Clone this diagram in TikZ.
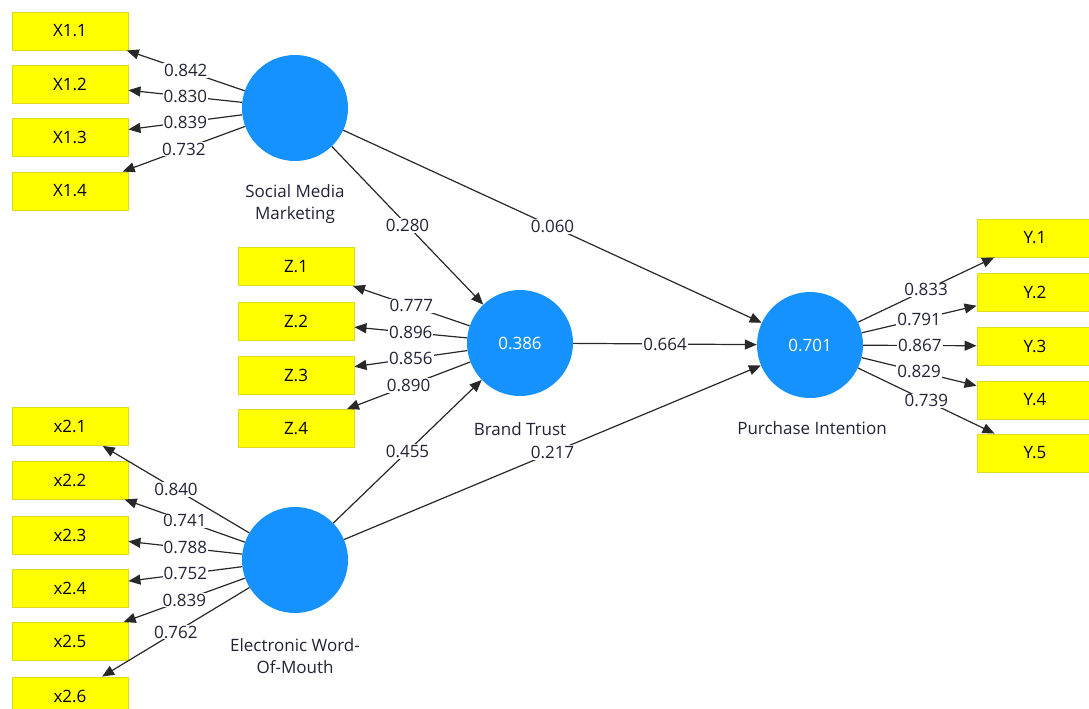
\documentclass[tikz,border=0pt]{standalone}
\usepackage{fontspec}
\setmainfont{Open Sans}
\usetikzlibrary{arrows.meta}
\definecolor{lvblue}{RGB}{22,146,255}
\definecolor{mvyellow}{RGB}{255,255,0}
\definecolor{mvborder}{RGB}{220,220,30}
\definecolor{txtdark}{RGB}{35,35,55}
\definecolor{linegray}{RGB}{40,40,40}
\tikzset{
  mv/.style={draw=mvborder, line width=0.9pt, fill=mvyellow, minimum width=116pt, minimum height=38pt, inner sep=0pt, font=\fontsize{17}{19}\selectfont, text=black},
  lv/.style={circle, fill=lvblue, minimum size=106pt, inner sep=0pt, font=\fontsize{17}{19}\selectfont, text=white},
  lvname/.style={align=center, font=\fontsize{17}{22}\selectfont, text=txtdark},
  arr/.style={draw=linegray, line width=1.2pt, -{Triangle[length=12pt,width=10pt]}},
  lab/.style={fill=white, inner sep=1pt, font=\fontsize{17}{19}\selectfont, text=txtdark}
}
\begin{document}
\begin{tikzpicture}[x=1pt,y=-1pt]
\useasboundingbox[fill=white] (0,0) rectangle (1089,709);
% latent variables
\node[lv] (smm) at (295,108) {};
\node[lv] (bt) at (520,343) {0.386};
\node[lv] (pi) at (810,345) {0.701};
\node[lv] (ew) at (295,560) {};
\node[lvname] (smmname) at (295,204) {Social Media\\Marketing};
\node[lvname] (btname) at (520,429) {Brand Trust};
\node[lvname] (piname) at (812,428) {Purchase Intention};
\node[lvname] (ewname) at (295,656) {Electronic Word-\\Of-Mouth};
% indicators
\node[mv] (x11) at (70,31) {X1.1};
\node[mv] (x12) at (70,84) {X1.2};
\node[mv] (x13) at (70,137) {X1.3};
\node[mv] (x14) at (70,191) {X1.4};
\node[mv] (z1) at (296,266.5) {Z.1};
\node[mv] (z2) at (296,321.5) {Z.2};
\node[mv] (z3) at (296,375) {Z.3};
\node[mv] (z4) at (296,428.5) {Z.4};
\node[mv] (x21) at (70,426.5) {x2.1};
\node[mv] (x22) at (70,480) {x2.2};
\node[mv] (x23) at (70,535) {x2.3};
\node[mv] (x24) at (70,588.5) {x2.4};
\node[mv] (x25) at (70,641.5) {x2.5};
\node[mv] (x26) at (70,696) {x2.6};
\node[mv] (y1) at (1035,238) {Y.1};
\node[mv] (y2) at (1035,292) {Y.2};
\node[mv] (y3) at (1035,346) {Y.3};
\node[mv] (y4) at (1035,400) {Y.4};
\node[mv] (y5) at (1035,453) {Y.5};
% outer loadings
\draw[arr] (smm) -- node[lab]{0.842} (x11);
\draw[arr] (smm) -- node[lab]{0.830} (x12);
\draw[arr] (smm) -- node[lab]{0.839} (x13);
\draw[arr] (smm) -- node[lab]{0.732} (x14);
\draw[arr] (bt) -- node[lab]{0.777} (z1);
\draw[arr] (bt) -- node[lab]{0.896} (z2);
\draw[arr] (bt) -- node[lab]{0.856} (z3);
\draw[arr] (bt) -- node[lab]{0.890} (z4);
\draw[arr] (ew) -- node[lab]{0.840} (x21);
\draw[arr] (ew) -- node[lab]{0.741} (x22);
\draw[arr] (ew) -- node[lab]{0.788} (x23);
\draw[arr] (ew) -- node[lab]{0.752} (x24);
\draw[arr] (ew) -- node[lab]{0.839} (x25);
\draw[arr] (ew) -- node[lab]{0.762} (x26);
\draw[arr] (pi) -- node[lab]{0.833} (y1);
\draw[arr] (pi) -- node[lab]{0.791} (y2);
\draw[arr] (pi) -- node[lab]{0.867} (y3);
\draw[arr] (pi) -- node[lab]{0.829} (y4);
\draw[arr] (pi) -- node[lab]{0.739} (y5);
% structural paths
\draw[arr] (smm) -- node[lab]{0.280} (bt);
\draw[arr] (smm) -- node[lab]{0.060} (pi);
\draw[arr] (bt) -- node[lab]{0.664} (pi);
\draw[arr] (ew) -- node[lab]{0.455} (bt);
\draw[arr] (ew) -- node[lab]{0.217} (pi);
\end{tikzpicture}
\end{document}
